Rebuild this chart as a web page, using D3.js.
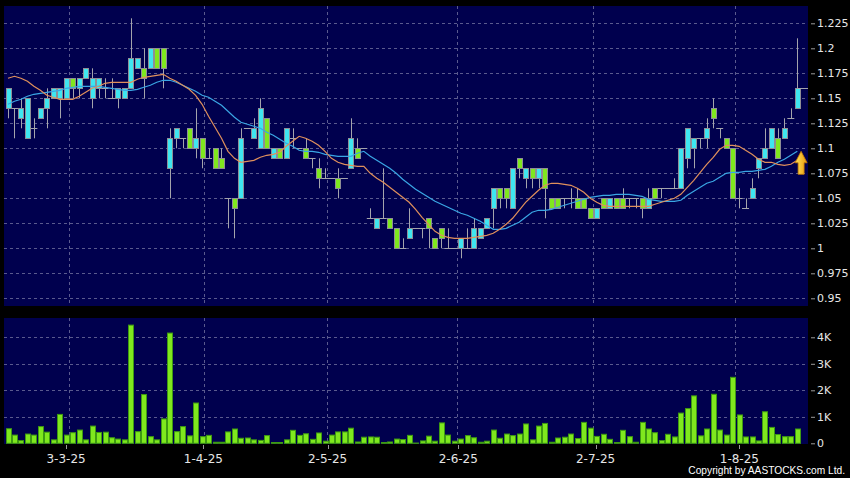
<!DOCTYPE html>
<html><head><meta charset="utf-8">
<script src="https://cdn.jsdelivr.net/npm/d3@7/dist/d3.min.js"></script>
<style>html,body{margin:0;padding:0;background:#000;} svg{display:block}</style>
</head><body>
<svg id="c" width="850" height="478"></svg>
<script>
// ---------------- DATA ----------------
const open  = [1.14,1.14,1.13,1.11,1.12,1.13,1.14,1.15,1.15,1.15,1.17,1.16,1.17,1.15,1.16,1.16,1.15,1.15,1.15,1.16,
               1.18,1.18,1.18,1.20,1.20,1.08,1.11,1.11,1.12,1.10,1.11,1.09,1.10,1.09,1.05,1.05,1.05,1.12,1.11,1.10,
               1.13,1.09,1.10,1.09,1.11,1.10,1.10,1.09,1.08,1.07,1.07,1.07,1.07,1.08,1.10,1.10,1.03,1.02,1.03,1.03,
               1.02,1.00,1.01,1.02,1.02,1.03,1.01,1.02,1.00,1.00,1.00,1.00,1.00,1.01,1.02,1.04,1.06,1.06,1.04,1.09,
               1.07,1.08,1.07,1.08,1.05,1.05,1.05,1.05,1.05,1.05,1.04,1.03,1.05,1.04,1.05,1.05,1.05,1.05,1.05,1.04,
               1.06,1.06,1.06,1.06,1.06,1.09,1.10,1.11,1.11,1.14,1.12,1.11,1.10,1.05,1.04,1.05,1.08,1.09,1.10,1.11,
               1.11,1.13,1.14];
const high  = [1.16,1.14,1.15,1.15,1.13,1.14,1.16,1.16,1.16,1.17,1.17,1.17,1.18,1.18,1.17,1.17,1.17,1.16,1.16,1.23,
               1.19,1.20,1.20,1.20,1.20,1.12,1.12,1.11,1.12,1.14,1.11,1.10,1.10,1.10,1.05,1.05,1.12,1.12,1.13,1.15,
               1.13,1.10,1.10,1.12,1.12,1.10,1.11,1.09,1.09,1.08,1.07,1.08,1.07,1.13,1.11,1.10,1.04,1.03,1.08,1.03,
               1.02,1.01,1.04,1.02,1.02,1.03,1.01,1.02,1.02,1.00,1.01,1.02,1.03,1.02,1.03,1.06,1.06,1.06,1.08,1.09,
               1.08,1.08,1.08,1.08,1.05,1.05,1.05,1.06,1.06,1.05,1.04,1.04,1.05,1.05,1.05,1.06,1.05,1.05,1.05,1.06,
               1.06,1.06,1.06,1.07,1.10,1.12,1.11,1.11,1.13,1.15,1.12,1.11,1.10,1.06,1.05,1.07,1.09,1.12,1.12,1.12,
               1.13,1.14,1.21];
const low   = [1.13,1.11,1.12,1.11,1.11,1.13,1.12,1.15,1.13,1.15,1.15,1.15,1.17,1.14,1.15,1.15,1.15,1.14,1.15,1.16,
               1.18,1.15,1.18,1.18,1.16,1.05,1.10,1.10,1.10,1.09,1.08,1.09,1.08,1.08,1.02,1.01,1.05,1.12,1.11,1.10,
               1.10,1.09,1.09,1.09,1.10,1.10,1.09,1.08,1.06,1.07,1.07,1.05,1.07,1.08,1.09,1.10,1.03,1.02,1.03,1.02,
               1.00,1.00,1.01,1.02,1.01,1.00,1.00,1.00,1.00,1.00,0.99,1.00,1.00,1.01,1.02,1.02,1.04,1.04,1.04,1.07,
               1.06,1.06,1.06,1.03,1.04,1.04,1.04,1.04,1.04,1.04,1.03,1.03,1.04,1.04,1.04,1.04,1.04,1.04,1.03,1.04,
               1.05,1.05,1.06,1.06,1.06,1.08,1.08,1.10,1.10,1.12,1.11,1.10,1.05,1.04,1.04,1.05,1.07,1.09,1.10,1.09,
               1.11,1.13,1.14];
const close = [1.16,1.14,1.14,1.15,1.12,1.14,1.15,1.16,1.16,1.17,1.16,1.17,1.18,1.17,1.17,1.16,1.15,1.16,1.16,1.19,
               1.19,1.17,1.20,1.18,1.18,1.11,1.12,1.11,1.10,1.11,1.09,1.09,1.08,1.08,1.05,1.04,1.11,1.12,1.12,1.14,
               1.10,1.10,1.09,1.12,1.11,1.10,1.09,1.09,1.07,1.07,1.07,1.06,1.07,1.11,1.09,1.10,1.03,1.03,1.03,1.02,
               1.00,1.00,1.02,1.02,1.02,1.02,1.00,1.01,1.00,1.00,1.01,1.00,1.02,1.02,1.03,1.06,1.05,1.05,1.08,1.08,
               1.08,1.07,1.08,1.06,1.04,1.04,1.05,1.05,1.04,1.04,1.03,1.04,1.04,1.05,1.04,1.04,1.05,1.05,1.04,1.05,
               1.05,1.06,1.06,1.06,1.10,1.12,1.11,1.11,1.12,1.13,1.12,1.10,1.05,1.05,1.04,1.06,1.09,1.10,1.12,1.09,
               1.12,1.13,1.16];
const volume = [550,310,100,350,310,630,420,130,1090,310,400,500,130,650,410,420,210,160,130,4460,
                440,1840,250,130,920,4160,440,630,280,1520,250,300,40,40,430,540,190,200,130,110,
                290,30,30,130,490,300,360,150,390,80,310,430,430,570,50,230,240,230,30,50,
                160,140,300,10,90,270,80,770,310,80,160,290,210,40,80,500,190,350,290,350,
                730,130,650,750,40,200,230,350,180,790,570,260,340,150,30,490,250,40,790,540,
                400,100,340,240,1140,1310,1790,280,540,1850,500,310,2490,1070,240,240,90,1190,600,330,
                250,250,540];
const ma10 = [1.170,1.172,1.170,1.167,1.162,1.158,1.153,1.151,1.149,1.149,1.149,1.152,1.156,1.160,1.162,1.165,1.166,1.166,1.166,1.166,
              1.169,1.171,1.172,1.173,1.174,1.170,1.167,1.163,1.159,1.153,1.144,1.132,1.121,1.110,1.097,1.090,1.086,1.087,1.088,1.091,
              1.093,1.094,1.096,1.102,1.107,1.112,1.110,1.107,1.103,1.097,1.090,1.086,1.084,1.083,1.082,1.082,1.075,1.070,1.066,1.061,
              1.056,1.051,1.046,1.039,1.031,1.024,1.017,1.013,1.011,1.010,1.010,1.010,1.011,1.012,1.013,1.015,1.019,1.024,1.030,1.038,
              1.046,1.052,1.058,1.063,1.065,1.065,1.064,1.063,1.060,1.056,1.050,1.046,1.043,1.042,1.042,1.042,1.042,1.042,1.042,1.042,
              1.044,1.046,1.048,1.050,1.054,1.061,1.068,1.076,1.084,1.091,1.099,1.103,1.103,1.102,1.098,1.094,1.089,1.086,1.086,1.084,
              1.083,1.084,1.088];
const ma20 = [1.144,1.147,1.149,1.152,1.154,1.155,1.156,1.157,1.158,1.160,1.161,1.162,1.162,1.162,1.162,1.161,1.160,1.159,1.158,1.158,
              1.159,1.161,1.163,1.166,1.168,1.168,1.166,1.163,1.160,1.157,1.153,1.151,1.147,1.143,1.137,1.131,1.126,1.124,1.122,1.120,
              1.116,1.113,1.109,1.105,1.102,1.098,1.097,1.097,1.096,1.094,1.093,1.092,1.092,1.092,1.095,1.097,1.092,1.088,1.084,1.080,
              1.075,1.069,1.064,1.059,1.055,1.051,1.047,1.044,1.041,1.038,1.035,1.033,1.030,1.027,1.023,1.019,1.019,1.020,1.023,1.026,
              1.031,1.036,1.038,1.038,1.039,1.041,1.043,1.045,1.047,1.049,1.051,1.052,1.053,1.053,1.054,1.054,1.054,1.053,1.052,1.049,
              1.048,1.047,1.047,1.047,1.048,1.053,1.057,1.061,1.065,1.067,1.071,1.075,1.076,1.076,1.077,1.077,1.078,1.079,1.082,1.086,
              1.089,1.093,1.097];
const dateTickIndex = [9, 30, 49, 69, 90, 112];
const dateTickLabels = ["3-3-25", "1-4-25", "2-5-25", "2-6-25", "2-7-25", "1-8-25"];
const priceTicks = [0.95, 0.975, 1.0, 1.025, 1.05, 1.075, 1.1, 1.125, 1.15, 1.175, 1.2, 1.225];
const volTicks = [0, 1000, 2000, 3000, 4000];
const volTickLabels = ["0", "1K", "2K", "3K", "4K"];

// ---------------- LAYOUT ----------------
const W = 850, H = 478;
const plotL = 4, plotR = 808;
const pTop = 6, pBot = 306, vTop = 318, vBot = 444;
const N = close.length;

const C_PANEL = "#00004e", C_GRID = "#5a5a8e", C_CYAN = "#3fe6f0", C_GREEN = "#7fe81e",
      C_EDGE = "#8e8e96", C_WICK = "#a4a4ac", C_TEXT = "#e6e6e6";

const svg = d3.select("#c");
svg.append("rect").attr("width", W).attr("height", H).attr("fill", "#000");

const x = d3.scaleLinear().domain([0, N - 1]).range([8, 797.3]);
const xGrid = d3.scaleLinear().domain([0, N - 1]).range([10.3, 799.6]);
const xTick = d3.scaleBand().domain(d3.range(N)).range([plotL, plotR]);
const y = d3.scaleLinear().domain([0.95, 1.225]).range([298.3, 23.3]);
const yv = d3.scaleLinear().domain([0, 4000]).range([443.3, 337.3]);
const crisp = v => Math.round(v) + 0.5;

const defs = svg.append("defs");
defs.append("clipPath").attr("id", "cp").append("rect")
  .attr("x", plotL).attr("y", pTop).attr("width", plotR - plotL).attr("height", pBot - pTop);
defs.append("clipPath").attr("id", "cv").append("rect")
  .attr("x", plotL).attr("y", vTop).attr("width", plotR - plotL).attr("height", vBot - vTop);
const grad = defs.append("linearGradient").attr("id", "arrowGrad").attr("x1", 0).attr("x2", 1).attr("y1", 0).attr("y2", 0);
grad.append("stop").attr("offset", "0%").attr("stop-color", "#ffe45a");
grad.append("stop").attr("offset", "100%").attr("stop-color", "#e89a0c");

// panels
svg.append("rect").attr("x", plotL).attr("y", pTop).attr("width", plotR - plotL).attr("height", pBot - pTop).attr("fill", C_PANEL);
svg.append("rect").attr("x", plotL).attr("y", vTop).attr("width", plotR - plotL).attr("height", vBot - vTop).attr("fill", C_PANEL);

const gp = svg.append("g").attr("clip-path", "url(#cp)");
const gv = svg.append("g").attr("clip-path", "url(#cv)");

// grid lines
gp.selectAll("line.hg").data(priceTicks).join("line")
  .attr("x1", plotL).attr("x2", plotR).attr("y1", d => crisp(y(d))).attr("y2", d => crisp(y(d)))
  .attr("stroke", C_GRID).attr("stroke-dasharray", "3,3");
gp.selectAll("line.vg").data(dateTickIndex).join("line")
  .attr("x1", d => crisp(xGrid(d))).attr("x2", d => crisp(xGrid(d))).attr("y1", pTop).attr("y2", pBot)
  .attr("stroke", C_GRID).attr("stroke-dasharray", "3,3");
gv.selectAll("line.hg").data(volTicks.slice(1)).join("line")
  .attr("x1", plotL).attr("x2", plotR).attr("y1", d => crisp(yv(d))).attr("y2", d => crisp(yv(d)))
  .attr("stroke", C_GRID).attr("stroke-dasharray", "3,3");
gv.selectAll("line.vg").data(dateTickIndex).join("line")
  .attr("x1", d => crisp(xGrid(d))).attr("x2", d => crisp(xGrid(d))).attr("y1", vTop).attr("y2", vBot)
  .attr("stroke", C_GRID).attr("stroke-dasharray", "3,3");

// candles
const idx = d3.range(N);
gp.selectAll("line.wick").data(idx).join("line")
  .attr("x1", i => crisp(x(i))).attr("x2", i => crisp(x(i)))
  .attr("y1", i => y(high[i])).attr("y2", i => y(low[i]))
  .attr("stroke", C_WICK).attr("stroke-width", 1);
const bodies = idx.filter(i => open[i] !== close[i]);
const dojis = idx.filter(i => open[i] === close[i]);
gp.selectAll("line.doji").data(dojis).join("line")
  .attr("x1", i => x(i) - 3.5).attr("x2", i => x(i) + 3.5)
  .attr("y1", i => crisp(y(close[i]))).attr("y2", i => crisp(y(close[i])))
  .attr("stroke", C_WICK).attr("stroke-width", 1);
gp.selectAll("rect.body").data(bodies).join("rect")
  .attr("x", i => Math.round(x(i) - 2.5) + 0.5)
  .attr("y", i => Math.round(y(Math.max(open[i], close[i]))) + 0.5)
  .attr("width", 5)
  .attr("height", i => Math.round(Math.abs(y(open[i]) - y(close[i]))))
  .attr("fill", i => close[i] > open[i] ? C_CYAN : C_GREEN)
  .attr("stroke", C_EDGE).attr("stroke-width", 1);

// moving averages
const line = d3.line().x((d, i) => x(i)).y(d => y(d)).curve(d3.curveLinear);
gp.append("path").datum(ma20).attr("d", line).attr("fill", "none").attr("stroke", "#3aa6e4").attr("stroke-width", 1.2);
gp.append("path").datum(ma10).attr("d", line).attr("fill", "none").attr("stroke", "#e0905c").attr("stroke-width", 1.2);

// last price line
gp.append("line").attr("x1", x(N - 1)).attr("x2", plotR)
  .attr("y1", crisp(y(close[N - 1]))).attr("y2", crisp(y(close[N - 1])))
  .attr("stroke", C_WICK);

// arrow marker
const ax = x(N - 1) + 3.8, ay = y(ma20[N - 1]);
const arrowPath = `M${ax},${ay} L${ax + 6},${ay + 11.5} L${ax + 3},${ay + 11.5} L${ax + 3},${ay + 23}
  L${ax - 3},${ay + 23} L${ax - 3},${ay + 11.5} L${ax - 6},${ay + 11.5} Z`;
svg.append("path").attr("d", arrowPath).attr("fill", "url(#arrowGrad)").attr("stroke", "#c77a00").attr("stroke-width", 0.8);

// volume bars
gv.selectAll("rect.vol").data(idx).join("rect")
  .attr("x", i => Math.round(x(i) - 2.5) + 0.5)
  .attr("y", i => yv(volume[i]))
  .attr("width", 5)
  .attr("height", i => Math.max(0, yv(0) - yv(volume[i])))
  .attr("fill", C_GREEN).attr("stroke", "#3e9a12").attr("stroke-width", 1);

// axes
const fmtPrice = d => String(+d.toFixed(3));
const pAxis = svg.append("g").attr("transform", "translate(811,0)")
  .call(d3.axisRight(y).tickValues(priceTicks).tickSize(4).tickPadding(2).tickFormat(fmtPrice));
const vAxis = svg.append("g").attr("transform", "translate(811,0)")
  .call(d3.axisRight(yv).tickValues(volTicks).tickSize(4).tickPadding(2).tickFormat((d, i) => volTickLabels[i]));
[pAxis, vAxis].forEach(a => {
  a.select(".domain").remove();
  a.selectAll(".tick line").attr("stroke", "#9a9a9a");
  a.selectAll(".tick text").attr("fill", C_TEXT).attr("font-family", "DejaVu Sans, sans-serif").attr("font-size", 11);
});

const xAxis = svg.append("g");
xAxis.selectAll("line").data(dateTickIndex).join("line")
  .attr("x1", d => crisp(xTick(d) + xTick.bandwidth() / 2)).attr("x2", d => crisp(xTick(d) + xTick.bandwidth() / 2))
  .attr("y1", 445).attr("y2", 449).attr("stroke", "#9a9a9a");
xAxis.selectAll("text").data(dateTickIndex).join("text")
  .attr("x", d => xTick(d) + xTick.bandwidth() / 2).attr("y", 462.5)
  .attr("text-anchor", "middle").attr("fill", C_TEXT)
  .attr("font-family", "DejaVu Sans, sans-serif").attr("font-size", 12)
  .text((d, i) => dateTickLabels[i]);

svg.append("text").attr("x", 845).attr("y", 474).attr("text-anchor", "end")
  .attr("fill", "#ffffff").attr("font-family", "Liberation Sans, Arial, sans-serif").attr("font-size", 10.2)
  .text("Copyright by AASTOCKS.com Ltd.");
</script>
</body></html>
